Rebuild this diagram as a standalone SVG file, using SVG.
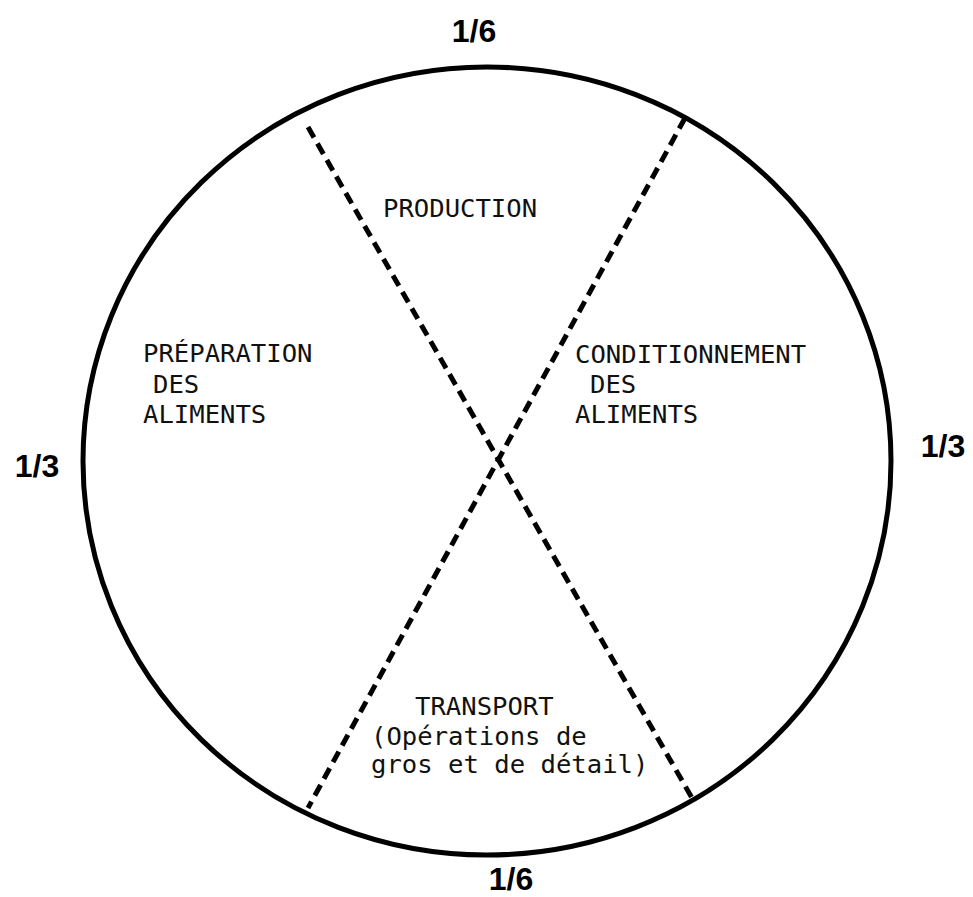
<svg xmlns="http://www.w3.org/2000/svg" width="973" height="897" viewBox="0 0 973 897">
  <style>
    .rim { fill: none; stroke: #000; stroke-width: 5; }
    .divider { fill: none; stroke: #000; stroke-width: 5; stroke-dasharray: 12 7; }
    .sector { font-family: "DejaVu Sans Mono", "Liberation Mono", monospace; font-size: 25.6px; fill: #111; }
    .share { font-family: "Liberation Sans", Arial, sans-serif; font-size: 32px; font-weight: bold; fill: #000; text-anchor: middle; }
  </style>
  <rect width="973" height="897" fill="#fff"/>

  <!-- outer circle of the food system -->
  <g id="circle">
    <ellipse class="rim" cx="487" cy="461" rx="404" ry="394"/>
  </g>

  <!-- dashed dividers between the sectors -->
  <g id="dividers">
    <line class="divider" x1="308" y1="127" x2="692" y2="798"/>
    <line class="divider" x1="685" y1="118" x2="308" y2="808"/>
  </g>

  <g id="production">
    <text class="sector" x="383" y="217">PRODUCTION</text>
  </g>

  <g id="preparation">
    <text class="sector" x="143" y="362">PRÉPARATION</text>
    <text class="sector" x="153" y="393">DES</text>
    <text class="sector" x="143" y="423">ALIMENTS</text>
  </g>

  <g id="conditionnement">
    <text class="sector" x="575" y="363">CONDITIONNEMENT</text>
    <text class="sector" x="590" y="393">DES</text>
    <text class="sector" x="575" y="423">ALIMENTS</text>
  </g>

  <g id="transport">
    <text class="sector" x="415" y="715">TRANSPORT</text>
    <text class="sector" x="371" y="745">(Opérations de</text>
    <text class="sector" x="371" y="773">gros et de détail)</text>
  </g>

  <!-- proportion of each part -->
  <g id="shares">
    <text class="share" x="474" y="42">1/6</text>
    <text class="share" x="511" y="890">1/6</text>
    <text class="share" x="37" y="477">1/3</text>
    <text class="share" x="943" y="457">1/3</text>
  </g>
</svg>
